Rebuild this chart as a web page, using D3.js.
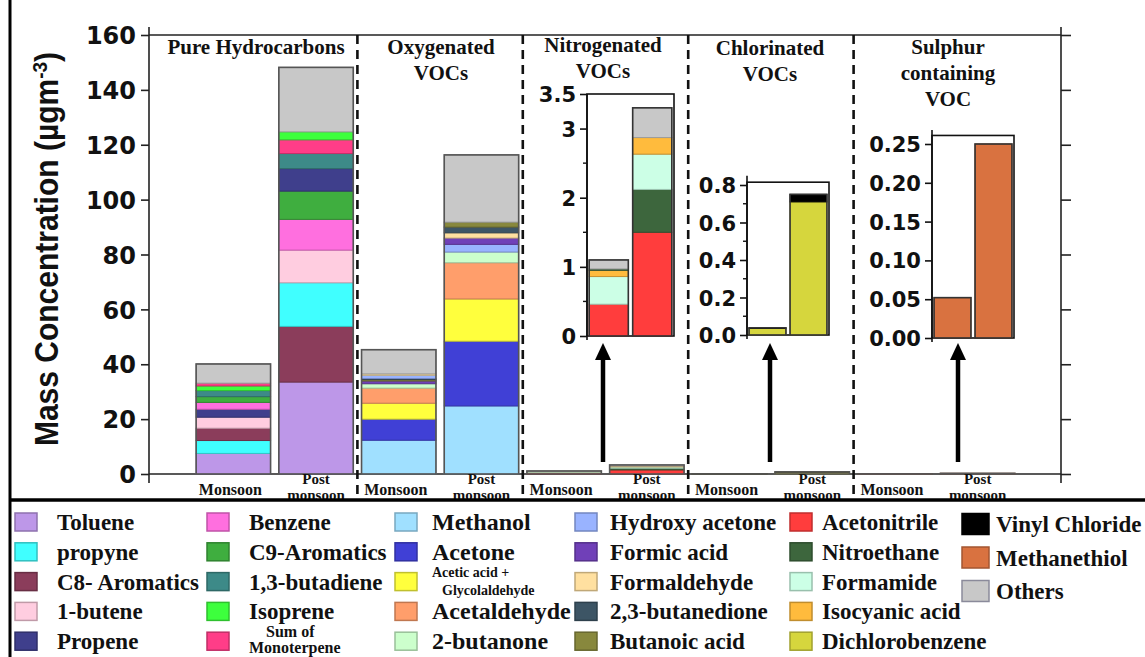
<!DOCTYPE html>
<html>
<head>
<meta charset="utf-8">
<script src="https://cdn.jsdelivr.net/npm/d3@7"></script>
<style>
  body { margin: 0; background: #fff; }
  svg { display: block; }
</style>
</head>
<body>
<svg id="chart" width="1145" height="657"></svg>
<script>
// DATA (µg m-3), each bar listed bottom -> top as drawn
const seasons = ["Monsoon", "Post monsoon"];
const groupTitles = [
  ["Pure Hydrocarbons"],
  ["Oxygenated", "VOCs"],
  ["Nitrogenated", "VOCs"],
  ["Chlorinated", "VOCs"],
  ["Sulphur", "containing", "VOC"],
];

const hcMonsoon = [["Toluene", 7.5], ["propyne", 4.7], ["C8- Aromatics", 4.5], ["1-butene", 4.0], ["Propene", 2.9], ["Benzene", 2.5], ["C9-Aromatics", 2.1], ["1,3-butadiene", 2.2], ["Isoprene", 1.7], ["Sum of Monoterpene", 1.0], ["Others", 7.0]];
const hcPost = [["Toluene", 33.5], ["C8- Aromatics", 20.3], ["propyne", 15.9], ["1-butene", 11.9], ["Benzene", 11.2], ["C9-Aromatics", 10.3], ["Propene", 8.2], ["1,3-butadiene", 5.5], ["Sum of Monoterpene", 5.0], ["Isoprene", 2.9], ["Others", 23.5]];
const oxyMonsoon = [["Methanol", 12.3], ["Acetone", 7.7], ["Acetic acid + Glycolaldehyde", 5.8], ["Acetaldehyde", 5.5], ["2-butanone", 1.6], ["Formic acid", 1.0], ["Butanoic acid", 0.5], ["2,3-butanedione", 0.4], ["Hydroxy acetone", 1.2], ["Formaldehyde", 0.5], ["Others", 8.8]];
const oxyPost = [["Methanol", 24.8], ["Acetone", 23.6], ["Acetic acid + Glycolaldehyde", 15.4], ["Acetaldehyde", 13.2], ["2-butanone", 3.9], ["Hydroxy acetone", 2.8], ["Formic acid", 2.3], ["Formaldehyde", 1.9], ["2,3-butanedione", 2.1], ["Butanoic acid", 1.8], ["Others", 24.5]];
const nitroMonsoon = [["Acetonitrile", 0.46], ["Formamide", 0.40], ["Isocyanic acid", 0.09], ["Nitroethane", 0.02], ["Others", 0.13]];
const nitroPost = [["Acetonitrile", 1.50], ["Nitroethane", 0.62], ["Formamide", 0.51], ["Isocyanic acid", 0.24], ["Others", 0.43]];
const chlMonsoon = [["Dichlorobenzene", 0.035], ["Vinyl Chloride", 0.003]];
const chlPost = [["Dichlorobenzene", 0.71], ["Vinyl Chloride", 0.04]];
const sulMonsoon = [["Methanethiol", 0.052]];
const sulPost = [["Methanethiol", 0.25]];

const yTicks = [0, 20, 40, 60, 80, 100, 120, 140, 160];
const nitroTicks = [0, 1, 2, 3, 3.5], nitroMinor = [0.5, 1.5, 2.5];
const chlTicks = [0, 0.2, 0.4, 0.6, 0.8], chlMinor = [0.1, 0.3, 0.5, 0.7];
const sulTicks = [0, 0.05, 0.1, 0.15, 0.2, 0.25];

const legendCols = [
  ["Toluene", "propyne", "C8- Aromatics", "1-butene", "Propene"],
  ["Benzene", "C9-Aromatics", "1,3-butadiene", "Isoprene", "Sum of Monoterpene"],
  ["Methanol", "Acetone", "Acetic acid + Glycolaldehyde", "Acetaldehyde", "2-butanone"],
  ["Hydroxy acetone", "Formic acid", "Formaldehyde", "2,3-butanedione", "Butanoic acid"],
  ["Acetonitrile", "Nitroethane", "Formamide", "Isocyanic acid", "Dichlorobenzene"],
  ["Vinyl Chloride", "Methanethiol", "Others"],
];

// STYLE
const colors = new Map([
  ["Toluene", "#bd97e8"], ["propyne", "#40ffff"], ["C8- Aromatics", "#8b3d5b"],
  ["1-butene", "#ffcde0"], ["Propene", "#3f3f8c"], ["Benzene", "#ff6fdf"],
  ["C9-Aromatics", "#3fae3f"], ["1,3-butadiene", "#3d8a88"], ["Isoprene", "#3dff3d"],
  ["Sum of Monoterpene", "#ff3d88"], ["Methanol", "#a0e0ff"], ["Acetone", "#4040d6"],
  ["Acetic acid + Glycolaldehyde", "#ffff3d"], ["Acetaldehyde", "#ff9e6b"],
  ["2-butanone", "#ccffcc"], ["Hydroxy acetone", "#99b3ff"], ["Formic acid", "#7040b8"],
  ["Formaldehyde", "#ffe0a0"], ["2,3-butanedione", "#3d5565"], ["Butanoic acid", "#88883d"],
  ["Acetonitrile", "#ff3d3d"], ["Nitroethane", "#3d663d"], ["Formamide", "#ccffe6"],
  ["Isocyanic acid", "#ffbb3d"], ["Dichlorobenzene", "#d6d63d"], ["Vinyl Chloride", "#000000"],
  ["Methanethiol", "#d97240"], ["Others", "#c8c8c8"],
]);
const sans = "'Liberation Sans', Arial, sans-serif";
const serif = "'Liberation Serif', 'Times New Roman', serif";
const axisFont = "'DejaVu Sans', sans-serif";

const svg = d3.select("#chart");
svg.append("rect").attr("width", 1145).attr("height", 657).attr("fill", "#fff");

function stackSegs(stack) {
  let acc = 0;
  return stack.map(([key, v]) => {
    const s = { key, y0: acc, y1: acc + v };
    acc += v;
    return s;
  });
}

const barStacks = [hcMonsoon, hcPost, oxyMonsoon, oxyPost, nitroMonsoon, nitroPost, chlMonsoon, chlPost, sulMonsoon, sulPost];
const bars = barStacks.map((stack, i) => ({
  id: i,
  group: Math.floor(i / 2),
  season: seasons[i % 2],
  segs: stackSegs(stack),
}));

// SCALES
const plot = { left: 149, right: 1061, top: 35, bottom: 474 };
const y = d3.scaleLinear().domain([0, 160]).range([plot.bottom, plot.top]);
const x = d3.scaleBand()
  .domain(bars.map((d) => d.id))
  .range([192, 1019])
  .paddingInner(0.1)
  .paddingOuter(0.05);

// FRAME + AXES
const frame = svg.append("g").attr("stroke", "#222").attr("stroke-width", 1.6);
frame.append("line").attr("x1", plot.left).attr("x2", plot.left).attr("y1", 27).attr("y2", 483);
frame.append("line").attr("x1", plot.right).attr("x2", plot.right).attr("y1", 27).attr("y2", 483);
frame.append("line").attr("x1", plot.left).attr("x2", plot.right).attr("y1", plot.top).attr("y2", plot.top);
frame.append("line").attr("x1", plot.left).attr("x2", plot.right).attr("y1", plot.bottom).attr("y2", plot.bottom);

const yl = svg.append("g")
  .attr("transform", `translate(${plot.left},0)`)
  .call(d3.axisLeft(y).tickValues(yTicks).tickSize(8).tickPadding(5));
yl.select(".domain").remove();
yl.selectAll("line").attr("stroke", "#222").attr("stroke-width", 1.6);
yl.selectAll("text")
  .attr("font-family", axisFont).attr("font-weight", "bold").attr("font-size", 24)
  .attr("fill", "#111").attr("dy", "0.36em");

const yr = svg.append("g")
  .attr("transform", `translate(${plot.right},0)`)
  .call(d3.axisRight(y).tickValues(yTicks).tickSize(10).tickFormat(""));
yr.select(".domain").remove();
yr.selectAll("line").attr("stroke", "#222").attr("stroke-width", 1.6);

svg.append("text")
  .attr("transform", `translate(58,${249}) scale(1.08,1) rotate(-90)`)
  .attr("text-anchor", "middle")
  .attr("font-family", sans).attr("font-weight", "bold").attr("font-size", 30)
  .attr("fill", "#111")
  .call((t) => {
    t.append("tspan").text("Mass Concentration (µgm");
    t.append("tspan").attr("baseline-shift", "super").attr("font-size", 19).text("-3");
    t.append("tspan").text(")");
  });

// GROUP DIVIDERS
const dividers = d3.range(1, 5).map((g) => x(2 * g) - (x.step() * x.paddingInner()) / 2);
svg.append("g").selectAll("line").data(dividers).join("line")
  .attr("x1", (d) => d).attr("x2", (d) => d)
  .attr("y1", plot.top).attr("y2", 499)
  .attr("stroke", "#111").attr("stroke-width", 2.6)
  .attr("stroke-dasharray", "9,6");

// BARS
function drawStack(g, segs, xPos, width, yScale, outline) {
  g.selectAll("rect.seg").data(segs).join("rect")
    .attr("class", "seg")
    .attr("x", xPos).attr("width", width)
    .attr("y", (d) => yScale(d.y1))
    .attr("height", (d) => yScale(d.y0) - yScale(d.y1))
    .attr("fill", (d) => colors.get(d.key))
    .attr("stroke", (d) => d3.color(colors.get(d.key)).darker(0.7))
    .attr("stroke-width", 1);
  const top = d3.max(segs, (d) => d.y1);
  g.append("rect")
    .attr("x", xPos).attr("width", width)
    .attr("y", yScale(top)).attr("height", yScale(0) - yScale(top))
    .attr("fill", "none").attr("stroke", outline).attr("stroke-width", 1.6);
}

const barG = svg.append("g").selectAll("g").data(bars).join("g");
barG.each(function (d) {
  drawStack(d3.select(this), d.segs, x(d.id), x.bandwidth(), y, "#555");
});

// GROUP TITLES
const titleX = [256, 441, 603, 770, 948];
const titleY = [54, 54, 52, 55, 54];
svg.append("g").selectAll("text").data(groupTitles).join("text")
  .attr("text-anchor", "middle")
  .attr("font-family", serif).attr("font-weight", "bold").attr("font-size", 21)
  .attr("fill", "#111")
  .each(function (lines, i) {
    d3.select(this).selectAll("tspan").data(lines).join("tspan")
      .attr("x", titleX[i]).attr("y", (l, j) => titleY[i] + j * 26)
      .text((l) => l);
  });

// INSETS
const insets = [
  { group: 2, ticks: nitroTicks, minor: nitroMinor, fmt: (d) => String(d), dom: [0, 3.5], yr: [336, 94], boxTop: 3.5, axisTop: 3.5, x0: 587, x1: 674, arrowX: 603 },
  { group: 3, ticks: chlTicks, minor: chlMinor, fmt: d3.format(".1f"), dom: [0, 0.8], yr: [335, 185], boxTop: 0.815, axisTop: 0.85, x0: 747, x1: 829, arrowX: 770 },
  { group: 4, ticks: sulTicks, minor: [], fmt: d3.format(".2f"), dom: [0, 0.25], yr: [338, 144], boxTop: 0.261, axisTop: 0.268, x0: 932, x1: 1014, arrowX: 958 },
];

insets.forEach((ins) => {
  const yi = d3.scaleLinear().domain(ins.dom).range(ins.yr);
  const xi = d3.scaleBand().domain(seasons).range([ins.x0, ins.x1]).paddingInner(0.1).paddingOuter(0.05);
  const g = svg.append("g");
  g.append("rect")
    .attr("x", ins.x0).attr("y", yi(ins.boxTop))
    .attr("width", ins.x1 - ins.x0).attr("height", yi(0) - yi(ins.boxTop))
    .attr("fill", "#fff").attr("stroke", "#111").attr("stroke-width", 1.6);
  bars.filter((b) => b.group === ins.group).forEach((b) => {
    drawStack(g.append("g"), b.segs, xi(b.season), xi.bandwidth(), yi, "#333");
  });
  g.append("line")
    .attr("x1", ins.x0).attr("x2", ins.x0)
    .attr("y1", yi(0) + 4).attr("y2", yi(ins.axisTop))
    .attr("stroke", "#111").attr("stroke-width", 1.6);
  const ax = g.append("g")
    .attr("transform", `translate(${ins.x0},0)`)
    .call(d3.axisLeft(yi).tickValues(ins.ticks).tickSize(7).tickPadding(4).tickFormat(ins.fmt));
  ax.select(".domain").remove();
  ax.selectAll("line").attr("stroke", "#111").attr("stroke-width", 1.6);
  ax.selectAll("text")
    .attr("font-family", axisFont).attr("font-weight", "bold").attr("font-size", 21)
    .attr("fill", "#111").attr("dy", "0.36em");
  g.selectAll("line.minor").data(ins.minor).join("line")
    .attr("class", "minor")
    .attr("x1", ins.x0 - 4).attr("x2", ins.x0)
    .attr("y1", (d) => yi(d)).attr("y2", (d) => yi(d))
    .attr("stroke", "#111").attr("stroke-width", 1.4);

  // arrow from main bars up to the inset
  const ax0 = ins.arrowX;
  g.append("line")
    .attr("x1", ax0).attr("x2", ax0).attr("y1", 462).attr("y2", 356)
    .attr("stroke", "#000").attr("stroke-width", 4.5);
  g.append("path")
    .attr("d", `M${ax0 - 8},${360}L${ax0 + 8},${360}L${ax0},${343}Z`)
    .attr("fill", "#000");
});

// X LABELS
const xLab = svg.append("g")
  .attr("font-family", serif).attr("font-weight", "bold").attr("font-size", 15)
  .attr("fill", "#111").attr("text-anchor", "middle");
bars.forEach((b) => {
  const cx = x(b.id) + x.bandwidth() / 2;
  if (b.season === "Monsoon") {
    xLab.append("text").attr("x", cx - 3).attr("y", 495).attr("font-size", 16).text("Monsoon");
  } else {
    xLab.append("text").attr("x", cx).attr("y", 484).text("Post");
    xLab.append("text").attr("x", cx).attr("y", 500).text("monsoon");
  }
});

// OUTER RULES
svg.append("line").attr("x1", 10).attr("x2", 10).attr("y1", 0).attr("y2", 657)
  .attr("stroke", "#000").attr("stroke-width", 3);
svg.append("line").attr("x1", 10).attr("x2", 1145).attr("y1", 500).attr("y2", 500)
  .attr("stroke", "#000").attr("stroke-width", 3.5);

// LEGEND
const swX = [15, 207, 395, 575, 790, 962];
const txX = [57, 249, 432, 610, 822, 996];
const legendSplit = {
  "Acetic acid + Glycolaldehyde": { lines: ["Acetic acid +", "Glycolaldehyde"], dx: [0, 10], dy: [-5, 13], size: 14 },
  "Sum of Monoterpene": { lines: ["Sum of", "Monoterpene"], dx: [17, 0], dy: [-4, 12], size: 16 },
};
const legend = svg.append("g").attr("font-family", serif).attr("font-weight", "bold").attr("fill", "#111");
legendCols.forEach((col, c) => {
  const step = c === 5 ? 33.5 : 29.8;
  const sw = c === 5 ? [27, 21] : [22, 18];
  col.forEach((name, r) => {
    const cy = (c === 5 ? 524 : 522) + r * step;
    const col0 = colors.get(name);
    legend.append("rect")
      .attr("x", swX[c]).attr("y", cy - sw[1] / 2)
      .attr("width", sw[0]).attr("height", sw[1])
      .attr("fill", col0)
      .attr("stroke", name === "Others" ? "#8a8a9a" : d3.color(col0).darker(0.8))
      .attr("stroke-width", 1.5);
    const sp = legendSplit[name];
    if (sp) {
      sp.lines.forEach((l, j) => {
        legend.append("text")
          .attr("x", txX[c] + sp.dx[j]).attr("y", cy + sp.dy[j])
          .attr("font-size", sp.size).text(l);
      });
    } else {
      legend.append("text")
        .attr("x", txX[c]).attr("y", cy + 8)
        .attr("font-size", c === 2 ? 24 : 23).text(name);
    }
  });
});
</script>
</body>
</html>
